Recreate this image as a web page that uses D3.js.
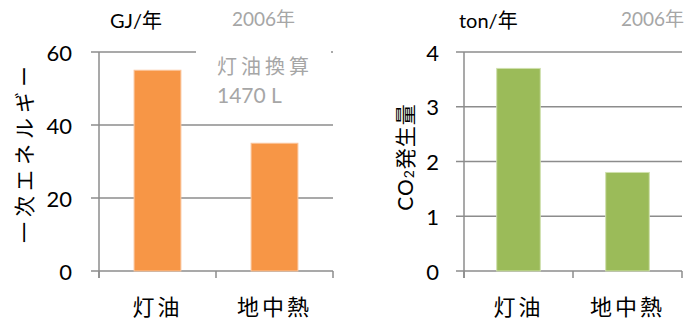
<!DOCTYPE html>
<html>
<head>
<meta charset="utf-8">
<script src="https://cdn.jsdelivr.net/npm/d3@7"></script>
<style>
  html, body { margin: 0; padding: 0; background: #fff; }
  svg { display: block; }
  text { font-family: Lato, "Noto Sans CJK JP", sans-serif; }
</style>
</head>
<body>
<svg id="chart" width="684" height="320"></svg>
<script>
// Shared categories
const categories = ["灯油", "地中熱"];

// Primary energy per year (GJ)
const energyValues = [55, 35];
const energyTicks = [0, 20, 40, 60];

// CO2 emissions per year (ton)
const co2Values = [3.7, 1.8];
const co2Ticks = [0, 1, 2, 3, 4];

const svg = d3.select("#chart");
const gridColor = "#8c8c8c";
const grayText = "#a6a6a6";
const cjk = "'Noto Sans CJK JP', sans-serif";

function drawPanel(opt) {
  const g = svg.append("g");
  const x = d3.scaleBand().domain(categories).range([opt.x0, opt.x1]).paddingInner(0).paddingOuter(0);
  const y = d3.scaleLinear().domain([0, d3.max(opt.ticks)]).range([opt.yBottom, opt.yTop]);

  // horizontal gridlines with outward tick stubs
  g.append("g").selectAll("line").data(opt.ticks).join("line")
    .attr("x1", opt.x0 - 8).attr("x2", opt.x1)
    .attr("y1", d => y(d)).attr("y2", d => y(d))
    .attr("stroke", gridColor).attr("stroke-width", 1.5);

  // vertical axis line
  g.append("line")
    .attr("x1", opt.x0).attr("x2", opt.x0)
    .attr("y1", y(d3.max(opt.ticks))).attr("y2", opt.yBottom + 7)
    .attr("stroke", gridColor).attr("stroke-width", 1.5);

  // category boundary ticks below the baseline
  const bounds = categories.map(c => x(c)).concat([opt.x1]);
  g.append("g").selectAll("line").data(bounds).join("line")
    .attr("x1", d => d).attr("x2", d => d)
    .attr("y1", opt.yBottom).attr("y2", opt.yBottom + 7)
    .attr("stroke", gridColor).attr("stroke-width", 1.5);

  // optional note box that sits over the top gridline
  if (opt.note) opt.note(g, y);

  // bars
  const bw = x.bandwidth() * 0.4;
  g.append("g").selectAll("rect").data(opt.values).join("rect")
    .attr("x", (d, i) => x(categories[i]) + (x.bandwidth() - bw) / 2)
    .attr("width", bw)
    .attr("y", d => y(d))
    .attr("height", d => y(0) - y(d))
    .attr("fill", opt.color)
    .attr("stroke", opt.edge).attr("stroke-width", 1);

  // y tick labels
  g.append("g").selectAll("text").data(opt.ticks).join("text")
    .attr("x", opt.labelRight).attr("y", d => y(d))
    .attr("text-anchor", "end").attr("dominant-baseline", "central")
    .attr("font-size", 22).attr("fill", "#000")
    .text(d => d);

  // category labels
  g.append("g").selectAll("text").data(categories).join("text")
    .attr("x", d => x(d) + x.bandwidth() / 2)
    .attr("y", 306)
    .attr("text-anchor", "middle").attr("dominant-baseline", "central")
    .attr("font-family", cjk).attr("font-size", 22).attr("letter-spacing", 3)
    .attr("fill", "#000")
    .text(d => d);

  // unit and year captions
  g.append("text").attr("x", opt.unitX).attr("y", 20)
    .attr("dominant-baseline", "central").attr("font-size", 20).attr("fill", "#000")
    .text(opt.unit);
  g.append("text").attr("x", opt.yearX).attr("y", 18)
    .attr("text-anchor", opt.yearAnchor).attr("dominant-baseline", "central")
    .attr("font-size", 19).attr("fill", grayText)
    .text("2006年");

  // rotated axis title
  const t = g.append("text")
    .attr("transform", `translate(${opt.titleX},${opt.titleY}) rotate(-90)`)
    .attr("text-anchor", "middle").attr("dominant-baseline", "central")
    .attr("font-family", cjk).attr("font-size", 21).attr("fill", "#000");
  opt.title(t);
  return g;
}

// Left panel: primary energy
drawPanel({
  x0: 99, x1: 333, yTop: 52, yBottom: 271,
  ticks: energyTicks, values: energyValues,
  color: "#f79646", edge: "#fbc49a",
  labelRight: 72, unit: "GJ/年", unitX: 110,
  yearX: 232, yearAnchor: "start",
  titleX: 23, titleY: 152,
  title: t => t.attr("letter-spacing", 5).text("一次エネルギー"),
  note: (g, y) => {
    g.append("rect").attr("x", 196).attr("y", y(60) - 6).attr("width", 135).attr("height", 60).attr("fill", "#fff");
    g.append("text").attr("x", 217).attr("y", 66)
      .attr("dominant-baseline", "central")
      .attr("font-family", cjk).attr("font-size", 20).attr("letter-spacing", 4)
      .attr("fill", grayText).text("灯油換算");
    g.append("text").attr("x", 217).attr("y", 94)
      .attr("dominant-baseline", "central")
      .attr("font-size", 21).attr("fill", grayText).text("1470 L");
  }
});

// Right panel: CO2 emissions
drawPanel({
  x0: 464, x1: 682, yTop: 52, yBottom: 271,
  ticks: co2Ticks, values: co2Values,
  color: "#9bbb59", edge: "#cfe0ad",
  labelRight: 439, unit: "ton/年", unitX: 459,
  yearX: 684, yearAnchor: "end",
  titleX: 404, titleY: 157,
  title: t => {
    t.attr("letter-spacing", 1);
    t.append("tspan").attr("font-family", "Lato, sans-serif").text("CO");
    t.append("tspan").attr("font-family", "Lato, sans-serif").attr("font-size", 14).attr("dy", 4).text("2");
    t.append("tspan").attr("dy", -4).text("発生量");
  }
});
</script>
</body>
</html>
